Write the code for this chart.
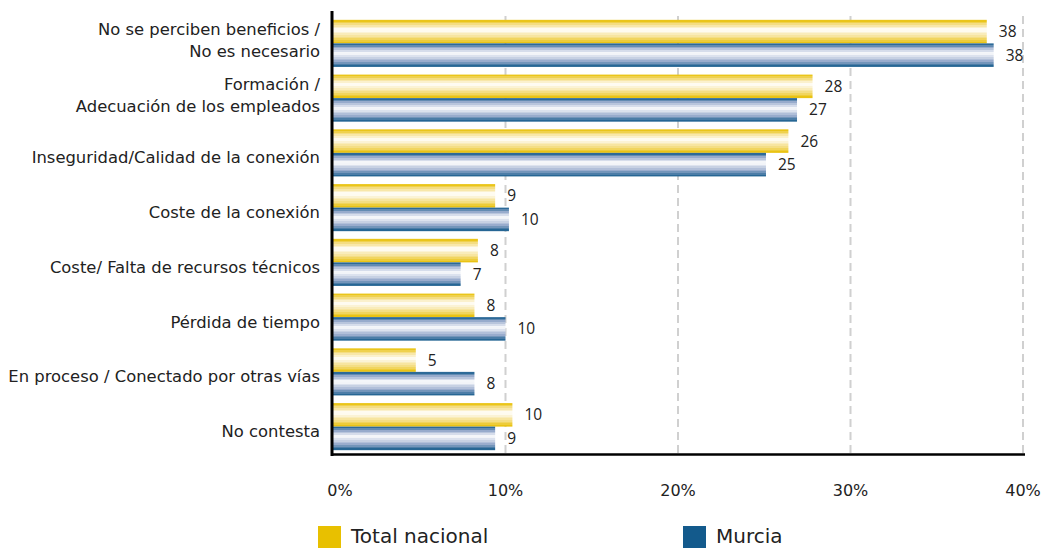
<!DOCTYPE html>
<html>
<head>
<meta charset="utf-8">
<script src="https://cdn.jsdelivr.net/npm/d3@7"></script>
<style>
  body { margin: 0; background: white; }
  #chart { width: 1042px; height: 548px; }
</style>
</head>
<body>
<div id="chart"></div>
<script>
// categories, each split in the lines it is written on
const categories = [
  ["No se perciben beneficios /", "No es necesario"],
  ["Formación /", "Adecuación de los empleados"],
  ["Inseguridad/Calidad de la conexión"],
  ["Coste  de la conexión"],
  ["Coste/ Falta de recursos técnicos"],
  ["Pérdida de tiempo"],
  ["En proceso / Conectado por otras vías"],
  ["No contesta"],
];

const totalNacional = [37.9, 27.8, 26.4, 9.4, 8.4, 8.2, 4.8, 10.4];
const murcia = [38.3, 26.9, 25.1, 10.2, 7.4, 10.0, 8.2, 9.4];

const seriesNames = ["Total nacional", "Murcia"];
const xTicks = [0, 10, 20, 30, 40];

const width = 1042,
  height = 548;
const margin = { top: 16, right: 19, bottom: 94, left: 333 };

const svg = d3
  .select("#chart")
  .append("svg")
  .attr("width", width)
  .attr("height", height);

const defs = svg.append("defs");

// banded gradients: dark edge, fading to white a bit above the middle
function bandedGradient(id, edge, mid) {
  const grad = defs
    .append("linearGradient")
    .attr("id", id)
    .attr("x1", 0)
    .attr("y1", 0)
    .attr("x2", 0)
    .attr("y2", 1);
  const bands = 14;
  const whiteAt = 0.42;
  for (let i = 0; i < bands; i++) {
    const t0 = i / bands,
      t1 = (i + 1) / bands;
    const c = (t0 + t1) / 2;
    // distance from the white line, 0..1
    const d = c < whiteAt ? (whiteAt - c) / whiteAt : (c - whiteAt) / (1 - whiteAt);
    const col =
      d > 0.55
        ? d3.interpolateRgb(mid, edge)((d - 0.55) / 0.45)
        : d3.interpolateRgb("#ffffff", mid)(d / 0.55);
    grad.append("stop").attr("offset", t0).attr("stop-color", col);
    grad.append("stop").attr("offset", t1).attr("stop-color", col);
  }
}
bandedGradient("gradYellow", "#e8bf00", "#f5df8a");
bandedGradient("gradBlue", "#135a8b", "#9fb0d0");

const x = d3
  .scaleLinear()
  .domain([0, 40])
  .range([margin.left, width - margin.right]);

const y = d3
  .scaleBand()
  .domain(d3.range(categories.length))
  .range([margin.top, height - margin.bottom])
  .paddingInner(0.14)
  .paddingOuter(0.07);

const sub = d3
  .scaleBand()
  .domain([0, 1])
  .range([0, y.bandwidth()]);

// dashed gridlines
svg
  .append("g")
  .selectAll("line")
  .data(xTicks.slice(1))
  .join("line")
  .attr("x1", (d) => x(d))
  .attr("x2", (d) => x(d))
  .attr("y1", margin.top)
  .attr("y2", height - margin.bottom)
  .attr("stroke", "#d0d0d0")
  .attr("stroke-width", 2)
  .attr("stroke-dasharray", "8,5");

// bars
const series = [totalNacional, murcia];
const fills = ["url(#gradYellow)", "url(#gradBlue)"];
const bars = svg.append("g");
series.forEach((values, s) => {
  bars
    .append("g")
    .selectAll("rect")
    .data(values)
    .join("rect")
    .attr("x", x(0))
    .attr("y", (d, i) => y(i) + sub(s))
    .attr("width", (d) => x(d) - x(0))
    .attr("height", sub.bandwidth())
    .attr("fill", fills[s]);

  // value labels
  bars
    .append("g")
    .selectAll("text")
    .data(values)
    .join("text")
    .attr("x", (d) => x(d) + 12)
    .attr("y", (d, i) => y(i) + sub(s) + sub.bandwidth() / 2)
    .attr("dy", "0.36em")
    .attr("font-family", "'Open Sans', sans-serif")
    .attr("font-size", 15.5)
    .attr("fill", "#222")
    .text((d) => d3.format(".0f")(d));
});

// category labels
const catLabels = svg
  .append("g")
  .selectAll("text")
  .data(categories)
  .join("text")
  .attr("text-anchor", "end")
  .attr("font-family", "'DejaVu Sans', sans-serif")
  .attr("font-size", 16.4)
  .attr("fill", "#222")
  .attr("x", margin.left - 13)
  .attr("y", (d, i) => y(i) + y.bandwidth() / 2);

catLabels
  .selectAll("tspan")
  .data((d) => d)
  .join("tspan")
  .attr("x", margin.left - 13)
  .attr("dy", (d, j, nodes) => {
    if (nodes.length === 1) return 10.5;
    return j === 0 ? -8.5 : 22.5;
  })
  .text((d) => d);

// x axis tick labels
svg
  .append("g")
  .selectAll("text")
  .data(xTicks)
  .join("text")
  .attr("x", (d) => x(d) + (d === 0 ? 7 : 0))
  .attr("y", 496)
  .attr("text-anchor", "middle")
  .attr("font-family", "'DejaVu Sans', sans-serif")
  .attr("font-size", 16)
  .attr("fill", "#222")
  .text((d) => d + "%");

// axis lines
svg
  .append("line")
  .attr("x1", x(0) - 1)
  .attr("x2", x(0) - 1)
  .attr("y1", 11)
  .attr("y2", height - margin.bottom + 2)
  .attr("stroke", "#000")
  .attr("stroke-width", 3);

svg
  .append("line")
  .attr("x1", x(0) - 2)
  .attr("x2", x(40) + 2)
  .attr("y1", height - margin.bottom + 0.5)
  .attr("y2", height - margin.bottom + 0.5)
  .attr("stroke", "#000")
  .attr("stroke-width", 2.5);

// legend
const legendX = [318, 683];
const legendColors = ["#e8c000", "#135a8c"];
const legend = svg
  .append("g")
  .selectAll("g")
  .data(seriesNames)
  .join("g")
  .attr("transform", (d, i) => `translate(${legendX[i]}, 526)`);

legend
  .append("rect")
  .attr("width", 23)
  .attr("height", 22)
  .attr("fill", (d, i) => legendColors[i]);

legend
  .append("text")
  .attr("x", 33)
  .attr("y", 17)
  .attr("font-family", "'DejaVu Sans', sans-serif")
  .attr("font-size", 20)
  .attr("fill", "#222")
  .text((d) => d);
</script>
</body>
</html>
